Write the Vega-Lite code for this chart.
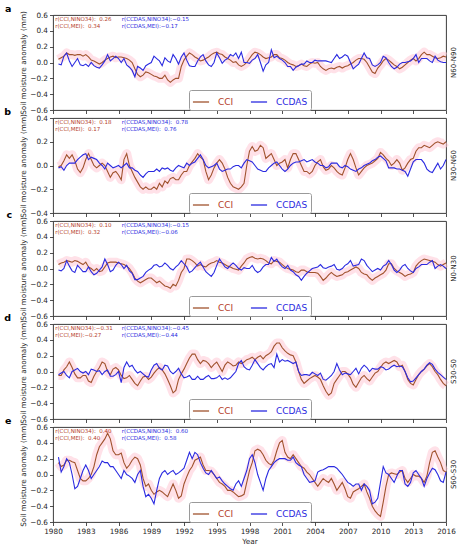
{
  "$schema": "https://vega.github.io/schema/vega-lite/v6.json",
  "padding": {"left": 3, "top": 3, "right": 2, "bottom": 2},
  "data": {"values": [
    {"t":1980.5,"a1":0.04,"a2":-0.02,"b1":-0.01,"b2":-0.02,"c1":0.05,"c2":-0.02,"d1":-0.05,"d2":-0.04,"e1":0.15,"e2":0.22},
    {"t":1980.75,"a1":0.06,"a2":-0.03,"b1":0,"b2":-0.01,"c1":0.07,"c2":-0.03,"d1":-0.05,"d2":-0.02,"e1":0.1,"e2":0.03},
    {"t":1981,"a1":0.08,"a2":0.08,"b1":0.04,"b2":-0.04,"c1":0.08,"c2":0,"d1":0.02,"d2":0,"e1":0.12,"e2":0.1},
    {"t":1981.25,"a1":0.12,"a2":0.12,"b1":0.09,"b2":0,"c1":0.1,"c2":0.1,"d1":0.06,"d2":-0.05,"e1":0.18,"e2":0.2},
    {"t":1981.5,"a1":0.1,"a2":0.02,"b1":0.06,"b2":0.02,"c1":0.09,"c2":0.03,"d1":0.12,"d2":-0.08,"e1":0.18,"e2":0.15},
    {"t":1981.75,"a1":0.1,"a2":-0.05,"b1":0.09,"b2":0.02,"c1":0.08,"c2":-0.03,"d1":0.05,"d2":0,"e1":0.16,"e2":0},
    {"t":1982,"a1":0.09,"a2":0,"b1":0.04,"b2":0.02,"c1":0.1,"c2":-0.05,"d1":-0.03,"d2":0.02,"e1":0.15,"e2":-0.18},
    {"t":1982.25,"a1":0.1,"a2":0.05,"b1":-0.03,"b2":0.05,"c1":0.09,"c2":0.04,"d1":-0.08,"d2":0.04,"e1":0.05,"e2":-0.15},
    {"t":1982.5,"a1":0.1,"a2":-0.03,"b1":-0.06,"b2":0.07,"c1":0.07,"c2":0,"d1":-0.08,"d2":0,"e1":-0.05,"e2":-0.05},
    {"t":1982.75,"a1":0.08,"a2":-0.04,"b1":-0.02,"b2":0.09,"c1":0.05,"c2":-0.04,"d1":-0.05,"d2":-0.02,"e1":-0.08,"e2":0.05},
    {"t":1983,"a1":0.1,"a2":-0.02,"b1":0.05,"b2":0.1,"c1":0.08,"c2":-0.04,"d1":-0.05,"d2":0,"e1":-0.08,"e2":0.12},
    {"t":1983.25,"a1":0.07,"a2":-0.05,"b1":0.1,"b2":0.05,"c1":0.02,"c2":0.02,"d1":-0.12,"d2":-0.04,"e1":-0.05,"e2":0.05},
    {"t":1983.5,"a1":0.03,"a2":0,"b1":0.05,"b2":0.07,"c1":0,"c2":-0.04,"d1":-0.14,"d2":0.03,"e1":0,"e2":-0.05},
    {"t":1983.75,"a1":0.02,"a2":-0.04,"b1":0,"b2":0.06,"c1":-0.03,"c2":-0.08,"d1":-0.06,"d2":0.02,"e1":0.1,"e2":0},
    {"t":1984,"a1":0,"a2":-0.06,"b1":-0.02,"b2":0.05,"c1":0,"c2":-0.06,"d1":0,"d2":0,"e1":0.25,"e2":0.05},
    {"t":1984.25,"a1":-0.02,"a2":-0.07,"b1":0,"b2":0.02,"c1":-0.04,"c2":-0.02,"d1":0.05,"d2":0.01,"e1":0.35,"e2":0.1},
    {"t":1984.5,"a1":0,"a2":-0.03,"b1":0.02,"b2":0,"c1":-0.03,"c2":0.02,"d1":0.12,"d2":-0.04,"e1":0.4,"e2":0.17},
    {"t":1984.75,"a1":0.03,"a2":0.02,"b1":0,"b2":-0.03,"c1":0.02,"c2":0.12,"d1":0.1,"d2":0,"e1":0.45,"e2":0.15},
    {"t":1985,"a1":0.05,"a2":0.1,"b1":-0.05,"b2":0.02,"c1":0.07,"c2":0.05,"d1":0,"d2":0.02,"e1":0.52,"e2":0.15},
    {"t":1985.25,"a1":0.07,"a2":0.02,"b1":-0.1,"b2":0,"c1":0.08,"c2":-0.04,"d1":-0.04,"d2":-0.06,"e1":0.45,"e2":0.1},
    {"t":1985.5,"a1":0.08,"a2":0.05,"b1":-0.06,"b2":-0.02,"c1":0.08,"c2":-0.02,"d1":0.03,"d2":-0.06,"e1":0.3,"e2":0.1},
    {"t":1985.75,"a1":0.06,"a2":0.08,"b1":-0.05,"b2":-0.01,"c1":0.08,"c2":0.04,"d1":0.05,"d2":-0.04,"e1":0.25,"e2":0.05},
    {"t":1986,"a1":0.07,"a2":0.05,"b1":-0.08,"b2":0,"c1":0.07,"c2":0.08,"d1":0.02,"d2":0,"e1":0.25,"e2":0},
    {"t":1986.25,"a1":0.07,"a2":0,"b1":-0.12,"b2":-0.02,"c1":0.06,"c2":0.05,"d1":-0.05,"d2":-0.14,"e1":0.27,"e2":-0.05},
    {"t":1986.5,"a1":0.06,"a2":0.05,"b1":0.05,"b2":0,"c1":0.05,"c2":0,"d1":-0.09,"d2":0.05,"e1":0.15,"e2":0.05},
    {"t":1986.75,"a1":0.05,"a2":-0.03,"b1":0.1,"b2":0.02,"c1":0.03,"c2":0.04,"d1":-0.08,"d2":0.12,"e1":0.08,"e2":0},
    {"t":1987,"a1":0.03,"a2":-0.06,"b1":0,"b2":-0.02,"c1":0,"c2":-0.03,"d1":-0.05,"d2":0.06,"e1":0.12,"e2":-0.02},
    {"t":1987.25,"a1":0,"a2":-0.1,"b1":-0.05,"b2":-0.02,"c1":-0.05,"c2":-0.06,"d1":-0.1,"d2":0.08,"e1":0.18,"e2":-0.05},
    {"t":1987.5,"a1":-0.08,"a2":-0.18,"b1":-0.1,"b2":-0.04,"c1":-0.12,"c2":-0.14,"d1":-0.15,"d2":0.02,"e1":0.22,"e2":-0.1},
    {"t":1987.75,"a1":-0.15,"a2":-0.05,"b1":-0.14,"b2":-0.05,"c1":-0.16,"c2":-0.14,"d1":-0.18,"d2":-0.02,"e1":0.2,"e2":0},
    {"t":1988,"a1":-0.18,"a2":-0.07,"b1":-0.18,"b2":-0.08,"c1":-0.18,"c2":-0.12,"d1":-0.12,"d2":0,"e1":0.12,"e2":0.05},
    {"t":1988.25,"a1":-0.16,"a2":-0.1,"b1":-0.2,"b2":-0.1,"c1":-0.16,"c2":-0.1,"d1":-0.07,"d2":-0.03,"e1":-0.05,"e2":-0.15},
    {"t":1988.5,"a1":-0.12,"a2":-0.04,"b1":-0.18,"b2":-0.07,"c1":-0.14,"c2":-0.05,"d1":-0.06,"d2":-0.06,"e1":-0.15,"e2":-0.28},
    {"t":1988.75,"a1":-0.13,"a2":-0.02,"b1":-0.2,"b2":-0.05,"c1":-0.12,"c2":-0.02,"d1":-0.1,"d2":-0.07,"e1":-0.12,"e2":-0.25},
    {"t":1989,"a1":-0.15,"a2":0,"b1":-0.2,"b2":-0.05,"c1":-0.12,"c2":0,"d1":-0.07,"d2":0.02,"e1":-0.2,"e2":-0.3},
    {"t":1989.25,"a1":-0.17,"a2":0.08,"b1":-0.18,"b2":-0.05,"c1":-0.15,"c2":0.04,"d1":-0.02,"d2":0.08,"e1":-0.25,"e2":-0.37},
    {"t":1989.5,"a1":-0.18,"a2":0.05,"b1":-0.2,"b2":-0.03,"c1":-0.18,"c2":0.05,"d1":0.02,"d2":0.1,"e1":-0.22,"e2":-0.2},
    {"t":1989.75,"a1":-0.2,"a2":0.02,"b1":-0.15,"b2":-0.05,"c1":-0.16,"c2":0.02,"d1":0.05,"d2":0.04,"e1":-0.2,"e2":-0.05},
    {"t":1990,"a1":-0.2,"a2":-0.04,"b1":-0.18,"b2":-0.02,"c1":-0.19,"c2":0.03,"d1":0.02,"d2":0.02,"e1":-0.22,"e2":0.02},
    {"t":1990.25,"a1":-0.16,"a2":0.06,"b1":-0.13,"b2":-0.03,"c1":-0.22,"c2":0.07,"d1":-0.03,"d2":0.08,"e1":-0.25,"e2":0.05},
    {"t":1990.5,"a1":-0.22,"a2":0.02,"b1":-0.15,"b2":-0.02,"c1":-0.23,"c2":0.04,"d1":-0.1,"d2":0.07,"e1":-0.28,"e2":0},
    {"t":1990.75,"a1":-0.25,"a2":0,"b1":-0.11,"b2":-0.04,"c1":-0.25,"c2":0,"d1":-0.18,"d2":0,"e1":-0.2,"e2":0.03},
    {"t":1991,"a1":-0.22,"a2":0.1,"b1":-0.1,"b2":-0.05,"c1":-0.2,"c2":-0.02,"d1":-0.27,"d2":-0.03,"e1":-0.12,"e2":0.05},
    {"t":1991.25,"a1":-0.2,"a2":0.05,"b1":-0.12,"b2":-0.02,"c1":-0.22,"c2":0.02,"d1":-0.24,"d2":0,"e1":-0.2,"e2":0},
    {"t":1991.5,"a1":-0.2,"a2":-0.02,"b1":-0.12,"b2":0,"c1":-0.15,"c2":0.05,"d1":-0.1,"d2":0.04,"e1":-0.3,"e2":0.02},
    {"t":1991.75,"a1":-0.05,"a2":0.07,"b1":-0.08,"b2":-0.01,"c1":-0.05,"c2":0.1,"d1":-0.03,"d2":-0.03,"e1":-0.27,"e2":0.05},
    {"t":1992,"a1":0.03,"a2":0.12,"b1":-0.05,"b2":-0.02,"c1":0,"c2":0.06,"d1":0.03,"d2":-0.08,"e1":-0.12,"e2":0.08},
    {"t":1992.25,"a1":0.08,"a2":0.03,"b1":-0.05,"b2":0.02,"c1":0.12,"c2":0.02,"d1":0.1,"d2":-0.07,"e1":-0.03,"e2":0.18},
    {"t":1992.5,"a1":0.12,"a2":-0.04,"b1":0,"b2":0,"c1":0.12,"c2":-0.05,"d1":0.17,"d2":-0.05,"e1":0.05,"e2":0.28},
    {"t":1992.75,"a1":0.1,"a2":-0.05,"b1":0.03,"b2":0.02,"c1":0.1,"c2":-0.03,"d1":0.22,"d2":-0.1,"e1":0.1,"e2":0.2},
    {"t":1993,"a1":0.07,"a2":-0.05,"b1":0.06,"b2":0.03,"c1":0.07,"c2":0.01,"d1":0.22,"d2":-0.1,"e1":0.18,"e2":0.28},
    {"t":1993.25,"a1":0.05,"a2":0.02,"b1":0.1,"b2":0.06,"c1":0.03,"c2":0.05,"d1":0.15,"d2":-0.06,"e1":0.2,"e2":0.25},
    {"t":1993.5,"a1":0.02,"a2":0.07,"b1":0.07,"b2":0.09,"c1":0.05,"c2":0.08,"d1":0.1,"d2":-0.1,"e1":0.22,"e2":0.15},
    {"t":1993.75,"a1":0.03,"a2":0.1,"b1":0.05,"b2":0.05,"c1":0.03,"c2":0.02,"d1":0.14,"d2":-0.1,"e1":0.12,"e2":0.08},
    {"t":1994,"a1":0.05,"a2":0.02,"b1":-0.05,"b2":0,"c1":0.02,"c2":-0.04,"d1":0.13,"d2":-0.07,"e1":0.05,"e2":0.02},
    {"t":1994.25,"a1":0.07,"a2":-0.03,"b1":-0.12,"b2":-0.02,"c1":0.05,"c2":-0.07,"d1":0.1,"d2":-0.05,"e1":0.05,"e2":0},
    {"t":1994.5,"a1":0.1,"a2":-0.05,"b1":-0.08,"b2":-0.01,"c1":0.07,"c2":-0.1,"d1":0.05,"d2":-0.09,"e1":0.04,"e2":0.05},
    {"t":1994.75,"a1":0.12,"a2":0,"b1":-0.02,"b2":0,"c1":0.08,"c2":-0.05,"d1":0.09,"d2":-0.09,"e1":0,"e2":0},
    {"t":1995,"a1":0.13,"a2":0.12,"b1":0.02,"b2":0.02,"c1":0.1,"c2":0.04,"d1":0.12,"d2":-0.08,"e1":-0.05,"e2":-0.05},
    {"t":1995.25,"a1":0.11,"a2":0.06,"b1":0.05,"b2":-0.03,"c1":0.08,"c2":0.12,"d1":0.06,"d2":-0.05,"e1":-0.1,"e2":-0.03},
    {"t":1995.5,"a1":0.1,"a2":-0.01,"b1":0.02,"b2":-0.05,"c1":0.07,"c2":0.07,"d1":0,"d2":-0.1,"e1":-0.12,"e2":-0.08},
    {"t":1995.75,"a1":0.07,"a2":0.03,"b1":-0.03,"b2":-0.04,"c1":0.05,"c2":0.02,"d1":0.08,"d2":-0.08,"e1":-0.15,"e2":-0.12},
    {"t":1996,"a1":0.05,"a2":0.05,"b1":-0.1,"b2":-0.03,"c1":0.03,"c2":0,"d1":0.12,"d2":-0.1,"e1":-0.2,"e2":-0.15},
    {"t":1996.25,"a1":0.03,"a2":0.1,"b1":-0.15,"b2":-0.03,"c1":0.02,"c2":0.04,"d1":0.1,"d2":-0.08,"e1":-0.2,"e2":-0.18},
    {"t":1996.5,"a1":0,"a2":0.08,"b1":-0.18,"b2":-0.01,"c1":0,"c2":0.07,"d1":0.07,"d2":-0.04,"e1":-0.22,"e2":-0.2},
    {"t":1996.75,"a1":0.01,"a2":0.12,"b1":-0.19,"b2":0,"c1":-0.01,"c2":0.04,"d1":0.08,"d2":0,"e1":-0.25,"e2":-0.12},
    {"t":1997,"a1":-0.03,"a2":0.05,"b1":-0.2,"b2":0,"c1":-0.02,"c2":0,"d1":0.12,"d2":0.1,"e1":-0.28,"e2":-0.08},
    {"t":1997.25,"a1":-0.05,"a2":0.13,"b1":-0.18,"b2":-0.02,"c1":0.03,"c2":-0.02,"d1":0.1,"d2":0.14,"e1":-0.27,"e2":-0.15},
    {"t":1997.5,"a1":-0.03,"a2":0,"b1":-0.15,"b2":0.02,"c1":0.07,"c2":0.01,"d1":0.12,"d2":0.06,"e1":-0.25,"e2":-0.05},
    {"t":1997.75,"a1":0,"a2":0,"b1":0,"b2":0.05,"c1":0.12,"c2":0,"d1":0.15,"d2":0.03,"e1":-0.1,"e2":0.05},
    {"t":1998,"a1":0.05,"a2":-0.01,"b1":0.12,"b2":0.04,"c1":0.14,"c2":0,"d1":0.16,"d2":0.02,"e1":0.05,"e2":0.2},
    {"t":1998.25,"a1":0.1,"a2":0.03,"b1":0.16,"b2":0.03,"c1":0.15,"c2":0.04,"d1":0.18,"d2":0.08,"e1":0.15,"e2":0.25},
    {"t":1998.5,"a1":0.13,"a2":0.05,"b1":0.12,"b2":0,"c1":0.13,"c2":-0.02,"d1":0.15,"d2":0.15,"e1":0.3,"e2":0.15},
    {"t":1998.75,"a1":0.12,"a2":0.1,"b1":0.13,"b2":-0.03,"c1":0.12,"c2":-0.05,"d1":0.18,"d2":0.1,"e1":0.32,"e2":0},
    {"t":1999,"a1":0.1,"a2":0,"b1":0.17,"b2":-0.04,"c1":0.13,"c2":-0.03,"d1":0.2,"d2":0.05,"e1":0.3,"e2":-0.1},
    {"t":1999.25,"a1":0.07,"a2":-0.11,"b1":0.15,"b2":-0.05,"c1":0.12,"c2":0.02,"d1":0.16,"d2":0.02,"e1":0.25,"e2":-0.2},
    {"t":1999.5,"a1":0.05,"a2":-0.03,"b1":0.06,"b2":-0.05,"c1":0.1,"c2":0.05,"d1":0.2,"d2":0.06,"e1":0.18,"e2":-0.05},
    {"t":1999.75,"a1":0.06,"a2":0,"b1":0.08,"b2":-0.02,"c1":0.07,"c2":0.05,"d1":0.22,"d2":0.09,"e1":0.14,"e2":0.05},
    {"t":2000,"a1":0.07,"a2":0.16,"b1":0.1,"b2":0,"c1":0.06,"c2":0.14,"d1":0.25,"d2":0.1,"e1":0.12,"e2":0.1},
    {"t":2000.25,"a1":0.1,"a2":0.06,"b1":0.05,"b2":0.02,"c1":0.1,"c2":0.09,"d1":0.32,"d2":0.05,"e1":0.18,"e2":0.15},
    {"t":2000.5,"a1":0.1,"a2":0.08,"b1":0,"b2":0.03,"c1":0.09,"c2":0.12,"d1":0.36,"d2":0.22,"e1":0.3,"e2":0.18},
    {"t":2000.75,"a1":0.06,"a2":0.05,"b1":0.02,"b2":0,"c1":0.08,"c2":0.06,"d1":0.36,"d2":0.12,"e1":0.4,"e2":0.2},
    {"t":2001,"a1":0.05,"a2":0.03,"b1":0.03,"b2":-0.03,"c1":0.05,"c2":0.02,"d1":0.3,"d2":0.15,"e1":0.43,"e2":0.2},
    {"t":2001.25,"a1":0.03,"a2":0,"b1":0.05,"b2":-0.05,"c1":0.02,"c2":0,"d1":0.26,"d2":0.13,"e1":0.28,"e2":0.2},
    {"t":2001.5,"a1":0,"a2":-0.05,"b1":-0.02,"b2":-0.03,"c1":0,"c2":0.04,"d1":0.23,"d2":0.14,"e1":0.22,"e2":0.18},
    {"t":2001.75,"a1":-0.02,"a2":-0.05,"b1":0.05,"b2":0,"c1":-0.01,"c2":-0.02,"d1":0.21,"d2":0.12,"e1":0.2,"e2":0.18},
    {"t":2002,"a1":-0.03,"a2":-0.1,"b1":0.1,"b2":0.02,"c1":-0.02,"c2":-0.04,"d1":0.2,"d2":0.1,"e1":0.25,"e2":0.22},
    {"t":2002.25,"a1":-0.05,"a2":-0.06,"b1":0.1,"b2":0.03,"c1":-0.04,"c2":-0.08,"d1":0.12,"d2":0.12,"e1":0.2,"e2":0.15},
    {"t":2002.5,"a1":-0.04,"a2":-0.04,"b1":0.05,"b2":0.03,"c1":-0.05,"c2":-0.1,"d1":0,"d2":0,"e1":0.15,"e2":0.12},
    {"t":2002.75,"a1":-0.02,"a2":-0.02,"b1":0,"b2":0.04,"c1":-0.02,"c2":-0.15,"d1":-0.1,"d2":-0.05,"e1":0.1,"e2":0.1},
    {"t":2003,"a1":-0.04,"a2":-0.02,"b1":-0.05,"b2":0.05,"c1":-0.02,"c2":-0.1,"d1":-0.15,"d2":-0.04,"e1":0.08,"e2":0},
    {"t":2003.25,"a1":-0.05,"a2":0.02,"b1":-0.05,"b2":0.03,"c1":-0.04,"c2":-0.06,"d1":-0.12,"d2":-0.04,"e1":0.03,"e2":-0.05},
    {"t":2003.5,"a1":-0.02,"a2":0,"b1":-0.07,"b2":0.04,"c1":-0.05,"c2":-0.03,"d1":-0.09,"d2":-0.05,"e1":0,"e2":-0.1},
    {"t":2003.75,"a1":0,"a2":0,"b1":-0.05,"b2":0.05,"c1":-0.05,"c2":0,"d1":-0.07,"d2":-0.01,"e1":-0.05,"e2":-0.09},
    {"t":2004,"a1":-0.01,"a2":0.03,"b1":0,"b2":0.03,"c1":-0.05,"c2":0.01,"d1":-0.05,"d2":-0.03,"e1":-0.1,"e2":-0.08},
    {"t":2004.25,"a1":0,"a2":0.02,"b1":0.03,"b2":0.02,"c1":-0.06,"c2":0.02,"d1":-0.07,"d2":-0.05,"e1":-0.15,"e2":0.03},
    {"t":2004.5,"a1":-0.05,"a2":0.02,"b1":0.05,"b2":0,"c1":-0.1,"c2":0.05,"d1":-0.1,"d2":-0.02,"e1":-0.1,"e2":0.05},
    {"t":2004.75,"a1":-0.08,"a2":0.02,"b1":-0.01,"b2":0,"c1":-0.15,"c2":0.01,"d1":-0.18,"d2":-0.1,"e1":-0.05,"e2":0.06},
    {"t":2005,"a1":-0.1,"a2":0.02,"b1":-0.04,"b2":-0.02,"c1":-0.12,"c2":0,"d1":-0.25,"d2":-0.11,"e1":-0.08,"e2":0.08},
    {"t":2005.25,"a1":-0.08,"a2":0.01,"b1":-0.03,"b2":-0.01,"c1":-0.08,"c2":0.02,"d1":-0.3,"d2":-0.08,"e1":-0.1,"e2":0.1},
    {"t":2005.5,"a1":-0.07,"a2":0,"b1":0,"b2":0.02,"c1":-0.05,"c2":0.03,"d1":-0.27,"d2":-0.05,"e1":-0.05,"e2":0.1},
    {"t":2005.75,"a1":-0.08,"a2":0.05,"b1":-0.02,"b2":0.02,"c1":-0.08,"c2":0.05,"d1":-0.15,"d2":0,"e1":-0.12,"e2":0.1},
    {"t":2006,"a1":-0.06,"a2":0.1,"b1":-0.05,"b2":0.02,"c1":-0.1,"c2":-0.01,"d1":-0.1,"d2":0.1,"e1":-0.2,"e2":0.08},
    {"t":2006.25,"a1":-0.05,"a2":0.05,"b1":-0.07,"b2":-0.01,"c1":-0.09,"c2":-0.02,"d1":-0.05,"d2":0.02,"e1":-0.15,"e2":0.04},
    {"t":2006.5,"a1":-0.07,"a2":0.07,"b1":-0.08,"b2":-0.02,"c1":-0.08,"c2":0,"d1":0,"d2":-0.04,"e1":-0.1,"e2":0},
    {"t":2006.75,"a1":-0.05,"a2":0.1,"b1":-0.02,"b2":0,"c1":-0.05,"c2":0.04,"d1":0,"d2":-0.02,"e1":-0.18,"e2":-0.05},
    {"t":2007,"a1":-0.04,"a2":0.08,"b1":0.05,"b2":-0.01,"c1":-0.04,"c2":0.06,"d1":-0.03,"d2":-0.03,"e1":-0.28,"e2":-0.1},
    {"t":2007.25,"a1":-0.02,"a2":0,"b1":0.1,"b2":-0.03,"c1":-0.02,"c2":0.1,"d1":-0.08,"d2":-0.04,"e1":-0.3,"e2":-0.12},
    {"t":2007.5,"a1":0,"a2":-0.08,"b1":0.05,"b2":-0.04,"c1":0,"c2":0.03,"d1":-0.16,"d2":0,"e1":-0.22,"e2":-0.15},
    {"t":2007.75,"a1":0.03,"a2":-0.05,"b1":-0.02,"b2":-0.05,"c1":0.02,"c2":0.04,"d1":-0.2,"d2":0.04,"e1":-0.2,"e2":-0.12},
    {"t":2008,"a1":0.05,"a2":-0.02,"b1":-0.08,"b2":-0.03,"c1":0,"c2":0.05,"d1":-0.14,"d2":-0.03,"e1":-0.18,"e2":-0.12},
    {"t":2008.25,"a1":0.05,"a2":0.05,"b1":-0.05,"b2":-0.02,"c1":-0.05,"c2":0.12,"d1":-0.08,"d2":0.04,"e1":-0.15,"e2":-0.2},
    {"t":2008.5,"a1":0.04,"a2":0.12,"b1":-0.02,"b2":0,"c1":-0.07,"c2":0.1,"d1":-0.05,"d2":0.08,"e1":-0.12,"e2":-0.12},
    {"t":2008.75,"a1":0,"a2":0.06,"b1":0,"b2":0.01,"c1":-0.08,"c2":0.04,"d1":-0.09,"d2":0.05,"e1":-0.22,"e2":-0.15},
    {"t":2009,"a1":-0.06,"a2":0.05,"b1":0.01,"b2":0.02,"c1":-0.12,"c2":0,"d1":-0.12,"d2":0,"e1":-0.3,"e2":-0.2},
    {"t":2009.25,"a1":-0.12,"a2":-0.03,"b1":0.02,"b2":0.04,"c1":-0.15,"c2":-0.04,"d1":-0.07,"d2":0.04,"e1":-0.4,"e2":-0.37},
    {"t":2009.5,"a1":-0.14,"a2":-0.05,"b1":0.04,"b2":0.05,"c1":-0.12,"c2":-0.02,"d1":-0.02,"d2":0.03,"e1":-0.46,"e2":-0.35},
    {"t":2009.75,"a1":-0.07,"a2":-0.03,"b1":0.06,"b2":0.07,"c1":-0.1,"c2":0,"d1":0,"d2":0.03,"e1":-0.5,"e2":-0.3},
    {"t":2010,"a1":-0.03,"a2":0,"b1":0.11,"b2":0.08,"c1":-0.08,"c2":-0.02,"d1":0.05,"d2":0.06,"e1":-0.53,"e2":-0.1},
    {"t":2010.25,"a1":0.02,"a2":0.08,"b1":0.09,"b2":0.06,"c1":-0.06,"c2":0.03,"d1":0.1,"d2":0.05,"e1":-0.35,"e2":0.1},
    {"t":2010.5,"a1":0.05,"a2":0.06,"b1":0.06,"b2":0.04,"c1":-0.02,"c2":0.05,"d1":0.12,"d2":0.02,"e1":-0.15,"e2":0.02},
    {"t":2010.75,"a1":0.03,"a2":0,"b1":0.04,"b2":-0.02,"c1":0.06,"c2":0.1,"d1":0.1,"d2":0.03,"e1":0,"e2":0},
    {"t":2011,"a1":0,"a2":-0.05,"b1":0,"b2":-0.02,"c1":0.06,"c2":0.05,"d1":0.12,"d2":0.06,"e1":0.02,"e2":-0.05},
    {"t":2011.25,"a1":-0.03,"a2":-0.08,"b1":0.02,"b2":-0.02,"c1":0,"c2":-0.02,"d1":0.14,"d2":0.08,"e1":0.01,"e2":-0.1},
    {"t":2011.5,"a1":-0.05,"a2":-0.06,"b1":0.05,"b2":-0.03,"c1":-0.03,"c2":-0.05,"d1":0.12,"d2":0.06,"e1":0,"e2":-0.02},
    {"t":2011.75,"a1":-0.08,"a2":-0.02,"b1":0.02,"b2":-0.03,"c1":-0.05,"c2":-0.02,"d1":0.06,"d2":0.07,"e1":0.03,"e2":0.05},
    {"t":2012,"a1":-0.06,"a2":0,"b1":-0.04,"b2":-0.04,"c1":-0.07,"c2":0.03,"d1":0.08,"d2":0.06,"e1":0.05,"e2":0.05},
    {"t":2012.25,"a1":-0.03,"a2":0,"b1":-0.02,"b2":-0.05,"c1":-0.1,"c2":0.05,"d1":0,"d2":0,"e1":-0.05,"e2":-0.12},
    {"t":2012.5,"a1":0,"a2":0.01,"b1":0.02,"b2":-0.09,"c1":-0.08,"c2":0,"d1":-0.1,"d2":-0.08,"e1":-0.1,"e2":-0.15},
    {"t":2012.75,"a1":0.03,"a2":0.02,"b1":0.05,"b2":-0.03,"c1":-0.07,"c2":-0.03,"d1":-0.15,"d2":-0.13,"e1":-0.05,"e2":-0.1},
    {"t":2013,"a1":0.05,"a2":0.05,"b1":0.06,"b2":0.03,"c1":-0.05,"c2":-0.05,"d1":-0.17,"d2":-0.12,"e1":0,"e2":0.02},
    {"t":2013.25,"a1":0.02,"a2":0.1,"b1":0.12,"b2":0.05,"c1":0.03,"c2":0,"d1":-0.1,"d2":-0.08,"e1":-0.02,"e2":0.05},
    {"t":2013.5,"a1":0.05,"a2":0,"b1":0.15,"b2":0.05,"c1":0.07,"c2":0.02,"d1":-0.04,"d2":-0.04,"e1":-0.02,"e2":0},
    {"t":2013.75,"a1":0.1,"a2":0.05,"b1":0.15,"b2":0.05,"c1":0.1,"c2":0.05,"d1":0,"d2":0,"e1":-0.05,"e2":-0.05},
    {"t":2014,"a1":0.13,"a2":0.05,"b1":0.17,"b2":0.02,"c1":0.12,"c2":0.05,"d1":0.03,"d2":0.03,"e1":-0.1,"e2":-0.15},
    {"t":2014.25,"a1":0.1,"a2":0.05,"b1":0.16,"b2":-0.03,"c1":0.11,"c2":0.05,"d1":0.07,"d2":0.08,"e1":-0.02,"e2":-0.05},
    {"t":2014.5,"a1":0.1,"a2":0.02,"b1":0.15,"b2":-0.05,"c1":0.1,"c2":0.08,"d1":0.1,"d2":0.11,"e1":0.15,"e2":0.02},
    {"t":2014.75,"a1":0.08,"a2":0,"b1":0.17,"b2":-0.06,"c1":0.09,"c2":0.1,"d1":0.06,"d2":0.09,"e1":0.28,"e2":0.08},
    {"t":2015,"a1":0.06,"a2":0.08,"b1":0.19,"b2":-0.02,"c1":0.08,"c2":0,"d1":0,"d2":0.03,"e1":0.3,"e2":0.06},
    {"t":2015.25,"a1":0.05,"a2":0.03,"b1":0.2,"b2":0.02,"c1":0.05,"c2":0.03,"d1":-0.04,"d2":-0.01,"e1":0.22,"e2":0},
    {"t":2015.5,"a1":0.06,"a2":0.01,"b1":0.19,"b2":-0.03,"c1":0.03,"c2":0.05,"d1":-0.1,"d2":-0.04,"e1":0.15,"e2":-0.08},
    {"t":2015.75,"a1":0.08,"a2":0,"b1":0.18,"b2":0,"c1":0.05,"c2":0.03,"d1":-0.15,"d2":-0.07,"e1":0.05,"e2":-0.1},
    {"t":2016,"a1":0.07,"a2":0,"b1":0.2,"b2":0.05,"c1":0.07,"c2":0,"d1":-0.18,"d2":-0.1,"e1":0.03,"e2":0.03}
  ]},
  "spacing": 8,
  "bounds": "flush",
  "resolve": {"scale": {"color": "independent"}, "legend": {"color": "independent"}},
  "vconcat": [
    {
      "width": 393, "height": 95,
      "title": {"text": "a", "orient": "left", "anchor": "end", "angle": 0, "align": "right", "baseline": "middle", "fontSize": 9.5, "fontWeight": "bold", "offset": 2, "dy": -2},
      "layer": [
        {"mark": {"type": "line", "color": "#ffc8d5", "strokeWidth": 9, "opacity": 0.55, "strokeJoin": "round"},
         "encoding": {
           "x": {"field": "t", "type": "quantitative", "title": null, "scale": {"domain": [1980, 2016], "nice": false, "zero": false}, "axis": {"values": [1980,1983,1986,1989,1992,1995,1998,2001,2004,2007,2010,2013,2016], "tickCount": 40, "labels": false}},
           "y": {"field": "a1", "type": "quantitative", "title": "Soil moisture anomaly (mm)", "scale": {"domain": [-0.6, 0.6], "nice": false, "zero": false}, "axis": {"values": [-0.6,-0.4,-0.2,0,0.2,0.4,0.6], "tickCount": 20, "format": ".1f"}}}},
        {"mark": {"type": "line", "strokeWidth": 1.1},
         "encoding": {
           "x": {"field": "t", "type": "quantitative", "title": null, "axis": {"values": [1980,1983,1986,1989,1992,1995,1998,2001,2004,2007,2010,2013,2016], "tickCount": 40, "labels": false}},
           "y": {"field": "a1", "type": "quantitative", "title": "Soil moisture anomaly (mm)", "axis": {"values": [-0.6,-0.4,-0.2,0,0.2,0.4,0.6], "tickCount": 20, "format": ".1f"}},
           "color": {"datum": "CCI", "type": "nominal", "scale": {"domain": ["CCI", "CCDAS"], "range": ["#a0522d", "#2a2ae0"]},
             "legend": {"orient": "none", "legendX": 136, "legendY": 75, "direction": "horizontal", "title": null, "symbolType": "stroke", "symbolStrokeWidth": 1.3, "symbolSize": 260, "labelFont": "DejaVu Sans", "labelFontSize": 9, "labelOffset": 8, "columnPadding": 14, "padding": 3, "fillColor": "#ffffff", "strokeColor": "#9a9a9a", "cornerRadius": 2, "encode": {"labels": {"update": {"fill": {"signal": "datum.label == 'CCI' ? '#b5402a' : '#2a2ae0'"}}}}}}}},
        {"mark": {"type": "line", "strokeWidth": 1.1},
         "encoding": {
           "x": {"field": "t", "type": "quantitative", "title": null, "axis": {"values": [1980,1983,1986,1989,1992,1995,1998,2001,2004,2007,2010,2013,2016], "tickCount": 40, "labels": false}},
           "y": {"field": "a2", "type": "quantitative", "title": "Soil moisture anomaly (mm)", "axis": {"values": [-0.6,-0.4,-0.2,0,0.2,0.4,0.6], "tickCount": 20, "format": ".1f"}},
           "color": {"datum": "CCDAS", "type": "nominal"}}},
        {"data": {"values": [{"n": 1}]}, "mark": {"type": "text", "align": "left", "baseline": "top", "fontSize": 5.5, "lineHeight": 6.7, "dy": 2, "color": "#b5402a"},
         "encoding": {"x": {"datum": 1980.2, "type": "quantitative"}, "y": {"datum": 0.6, "type": "quantitative"}, "text": {"value": ["r(CCI,NINO34):\u00a0\u00a00.26", "r(CCI,MEI):\u00a0\u00a00.34"]}}},
        {"data": {"values": [{"n": 1}]}, "mark": {"type": "text", "align": "left", "baseline": "top", "fontSize": 5.5, "lineHeight": 6.7, "dy": 2, "color": "#2a2ae0"},
         "encoding": {"x": {"datum": 1986.3, "type": "quantitative"}, "y": {"datum": 0.6, "type": "quantitative"}, "text": {"value": ["r(CCDAS,NINO34):−0.15", "r(CCDAS,MEI):−0.17"]}}},
        {"data": {"values": [{"n": 1}]}, "mark": {"type": "text", "angle": 270, "align": "center", "baseline": "top", "dy": 3.5, "fontSize": 7, "color": "#262626"},
         "encoding": {"x": {"datum": 2016, "type": "quantitative"}, "y": {"datum": 0, "type": "quantitative"}, "text": {"value": "N60-N90"}}}
      ]
    },
    {
      "width": 393, "height": 95,
      "title": {"text": "b", "orient": "left", "anchor": "end", "angle": 0, "align": "right", "baseline": "middle", "fontSize": 9.5, "fontWeight": "bold", "offset": 2, "dy": -2},
      "layer": [
        {"mark": {"type": "line", "color": "#ffc8d5", "strokeWidth": 9, "opacity": 0.55, "strokeJoin": "round"},
         "encoding": {
           "x": {"field": "t", "type": "quantitative", "title": null, "scale": {"domain": [1980, 2016], "nice": false, "zero": false}, "axis": {"values": [1980,1983,1986,1989,1992,1995,1998,2001,2004,2007,2010,2013,2016], "tickCount": 40, "labels": false}},
           "y": {"field": "b1", "type": "quantitative", "title": "Soil moisture anomaly (mm)", "scale": {"domain": [-0.4, 0.4], "nice": false, "zero": false}, "axis": {"values": [-0.4,-0.2,0,0.2,0.4], "tickCount": 20, "format": ".1f"}}}},
        {"mark": {"type": "line", "strokeWidth": 1.1},
         "encoding": {
           "x": {"field": "t", "type": "quantitative", "title": null, "axis": {"values": [1980,1983,1986,1989,1992,1995,1998,2001,2004,2007,2010,2013,2016], "tickCount": 40, "labels": false}},
           "y": {"field": "b1", "type": "quantitative", "title": "Soil moisture anomaly (mm)", "axis": {"values": [-0.4,-0.2,0,0.2,0.4], "tickCount": 20, "format": ".1f"}},
           "color": {"datum": "CCI", "type": "nominal", "scale": {"domain": ["CCI", "CCDAS"], "range": ["#a0522d", "#2a2ae0"]},
             "legend": {"orient": "none", "legendX": 136, "legendY": 75, "direction": "horizontal", "title": null, "symbolType": "stroke", "symbolStrokeWidth": 1.3, "symbolSize": 260, "labelFont": "DejaVu Sans", "labelFontSize": 9, "labelOffset": 8, "columnPadding": 14, "padding": 3, "fillColor": "#ffffff", "strokeColor": "#9a9a9a", "cornerRadius": 2, "encode": {"labels": {"update": {"fill": {"signal": "datum.label == 'CCI' ? '#b5402a' : '#2a2ae0'"}}}}}}}},
        {"mark": {"type": "line", "strokeWidth": 1.1},
         "encoding": {
           "x": {"field": "t", "type": "quantitative", "title": null, "axis": {"values": [1980,1983,1986,1989,1992,1995,1998,2001,2004,2007,2010,2013,2016], "tickCount": 40, "labels": false}},
           "y": {"field": "b2", "type": "quantitative", "title": "Soil moisture anomaly (mm)", "axis": {"values": [-0.4,-0.2,0,0.2,0.4], "tickCount": 20, "format": ".1f"}},
           "color": {"datum": "CCDAS", "type": "nominal"}}},
        {"data": {"values": [{"n": 1}]}, "mark": {"type": "text", "align": "left", "baseline": "top", "fontSize": 5.5, "lineHeight": 6.7, "dy": 2, "color": "#b5402a"},
         "encoding": {"x": {"datum": 1980.2, "type": "quantitative"}, "y": {"datum": 0.4, "type": "quantitative"}, "text": {"value": ["r(CCI,NINO34):\u00a0\u00a00.18", "r(CCI,MEI):\u00a0\u00a00.17"]}}},
        {"data": {"values": [{"n": 1}]}, "mark": {"type": "text", "align": "left", "baseline": "top", "fontSize": 5.5, "lineHeight": 6.7, "dy": 2, "color": "#2a2ae0"},
         "encoding": {"x": {"datum": 1986.3, "type": "quantitative"}, "y": {"datum": 0.4, "type": "quantitative"}, "text": {"value": ["r(CCDAS,NINO34):\u00a0\u00a00.78", "r(CCDAS,MEI):\u00a0\u00a00.76"]}}},
        {"data": {"values": [{"n": 1}]}, "mark": {"type": "text", "angle": 270, "align": "center", "baseline": "top", "dy": 3.5, "fontSize": 7, "color": "#262626"},
         "encoding": {"x": {"datum": 2016, "type": "quantitative"}, "y": {"datum": 0, "type": "quantitative"}, "text": {"value": "N30-N60"}}}
      ]
    },
    {
      "width": 393, "height": 95,
      "title": {"text": "c", "orient": "left", "anchor": "end", "angle": 0, "align": "right", "baseline": "middle", "fontSize": 9.5, "fontWeight": "bold", "offset": 2, "dy": -2},
      "layer": [
        {"mark": {"type": "line", "color": "#ffc8d5", "strokeWidth": 9, "opacity": 0.55, "strokeJoin": "round"},
         "encoding": {
           "x": {"field": "t", "type": "quantitative", "title": null, "scale": {"domain": [1980, 2016], "nice": false, "zero": false}, "axis": {"values": [1980,1983,1986,1989,1992,1995,1998,2001,2004,2007,2010,2013,2016], "tickCount": 40, "labels": false}},
           "y": {"field": "c1", "type": "quantitative", "title": "Soil moisture anomaly (mm)", "scale": {"domain": [-0.6, 0.6], "nice": false, "zero": false}, "axis": {"values": [-0.6,-0.4,-0.2,0,0.2,0.4,0.6], "tickCount": 20, "format": ".1f"}}}},
        {"mark": {"type": "line", "strokeWidth": 1.1},
         "encoding": {
           "x": {"field": "t", "type": "quantitative", "title": null, "axis": {"values": [1980,1983,1986,1989,1992,1995,1998,2001,2004,2007,2010,2013,2016], "tickCount": 40, "labels": false}},
           "y": {"field": "c1", "type": "quantitative", "title": "Soil moisture anomaly (mm)", "axis": {"values": [-0.6,-0.4,-0.2,0,0.2,0.4,0.6], "tickCount": 20, "format": ".1f"}},
           "color": {"datum": "CCI", "type": "nominal", "scale": {"domain": ["CCI", "CCDAS"], "range": ["#a0522d", "#2a2ae0"]},
             "legend": {"orient": "none", "legendX": 136, "legendY": 75, "direction": "horizontal", "title": null, "symbolType": "stroke", "symbolStrokeWidth": 1.3, "symbolSize": 260, "labelFont": "DejaVu Sans", "labelFontSize": 9, "labelOffset": 8, "columnPadding": 14, "padding": 3, "fillColor": "#ffffff", "strokeColor": "#9a9a9a", "cornerRadius": 2, "encode": {"labels": {"update": {"fill": {"signal": "datum.label == 'CCI' ? '#b5402a' : '#2a2ae0'"}}}}}}}},
        {"mark": {"type": "line", "strokeWidth": 1.1},
         "encoding": {
           "x": {"field": "t", "type": "quantitative", "title": null, "axis": {"values": [1980,1983,1986,1989,1992,1995,1998,2001,2004,2007,2010,2013,2016], "tickCount": 40, "labels": false}},
           "y": {"field": "c2", "type": "quantitative", "title": "Soil moisture anomaly (mm)", "axis": {"values": [-0.6,-0.4,-0.2,0,0.2,0.4,0.6], "tickCount": 20, "format": ".1f"}},
           "color": {"datum": "CCDAS", "type": "nominal"}}},
        {"data": {"values": [{"n": 1}]}, "mark": {"type": "text", "align": "left", "baseline": "top", "fontSize": 5.5, "lineHeight": 6.7, "dy": 2, "color": "#b5402a"},
         "encoding": {"x": {"datum": 1980.2, "type": "quantitative"}, "y": {"datum": 0.6, "type": "quantitative"}, "text": {"value": ["r(CCI,NINO34):\u00a0\u00a00.10", "r(CCI,MEI):\u00a0\u00a00.32"]}}},
        {"data": {"values": [{"n": 1}]}, "mark": {"type": "text", "align": "left", "baseline": "top", "fontSize": 5.5, "lineHeight": 6.7, "dy": 2, "color": "#2a2ae0"},
         "encoding": {"x": {"datum": 1986.3, "type": "quantitative"}, "y": {"datum": 0.6, "type": "quantitative"}, "text": {"value": ["r(CCDAS,NINO34):−0.15", "r(CCDAS,MEI):−0.06"]}}},
        {"data": {"values": [{"n": 1}]}, "mark": {"type": "text", "angle": 270, "align": "center", "baseline": "top", "dy": 3.5, "fontSize": 7, "color": "#262626"},
         "encoding": {"x": {"datum": 2016, "type": "quantitative"}, "y": {"datum": 0, "type": "quantitative"}, "text": {"value": "N0-N30"}}}
      ]
    },
    {
      "width": 393, "height": 95,
      "title": {"text": "d", "orient": "left", "anchor": "end", "angle": 0, "align": "right", "baseline": "middle", "fontSize": 9.5, "fontWeight": "bold", "offset": 2, "dy": -2},
      "layer": [
        {"mark": {"type": "line", "color": "#ffc8d5", "strokeWidth": 9, "opacity": 0.55, "strokeJoin": "round"},
         "encoding": {
           "x": {"field": "t", "type": "quantitative", "title": null, "scale": {"domain": [1980, 2016], "nice": false, "zero": false}, "axis": {"values": [1980,1983,1986,1989,1992,1995,1998,2001,2004,2007,2010,2013,2016], "tickCount": 40, "labels": false}},
           "y": {"field": "d1", "type": "quantitative", "title": "Soil moisture anomaly (mm)", "scale": {"domain": [-0.6, 0.6], "nice": false, "zero": false}, "axis": {"values": [-0.6,-0.4,-0.2,0,0.2,0.4,0.6], "tickCount": 20, "format": ".1f"}}}},
        {"mark": {"type": "line", "strokeWidth": 1.1},
         "encoding": {
           "x": {"field": "t", "type": "quantitative", "title": null, "axis": {"values": [1980,1983,1986,1989,1992,1995,1998,2001,2004,2007,2010,2013,2016], "tickCount": 40, "labels": false}},
           "y": {"field": "d1", "type": "quantitative", "title": "Soil moisture anomaly (mm)", "axis": {"values": [-0.6,-0.4,-0.2,0,0.2,0.4,0.6], "tickCount": 20, "format": ".1f"}},
           "color": {"datum": "CCI", "type": "nominal", "scale": {"domain": ["CCI", "CCDAS"], "range": ["#a0522d", "#2a2ae0"]},
             "legend": {"orient": "none", "legendX": 136, "legendY": 75, "direction": "horizontal", "title": null, "symbolType": "stroke", "symbolStrokeWidth": 1.3, "symbolSize": 260, "labelFont": "DejaVu Sans", "labelFontSize": 9, "labelOffset": 8, "columnPadding": 14, "padding": 3, "fillColor": "#ffffff", "strokeColor": "#9a9a9a", "cornerRadius": 2, "encode": {"labels": {"update": {"fill": {"signal": "datum.label == 'CCI' ? '#b5402a' : '#2a2ae0'"}}}}}}}},
        {"mark": {"type": "line", "strokeWidth": 1.1},
         "encoding": {
           "x": {"field": "t", "type": "quantitative", "title": null, "axis": {"values": [1980,1983,1986,1989,1992,1995,1998,2001,2004,2007,2010,2013,2016], "tickCount": 40, "labels": false}},
           "y": {"field": "d2", "type": "quantitative", "title": "Soil moisture anomaly (mm)", "axis": {"values": [-0.6,-0.4,-0.2,0,0.2,0.4,0.6], "tickCount": 20, "format": ".1f"}},
           "color": {"datum": "CCDAS", "type": "nominal"}}},
        {"data": {"values": [{"n": 1}]}, "mark": {"type": "text", "align": "left", "baseline": "top", "fontSize": 5.5, "lineHeight": 6.7, "dy": 2, "color": "#b5402a"},
         "encoding": {"x": {"datum": 1980.2, "type": "quantitative"}, "y": {"datum": 0.6, "type": "quantitative"}, "text": {"value": ["r(CCI,NINO34):−0.31", "r(CCI,MEI):−0.27"]}}},
        {"data": {"values": [{"n": 1}]}, "mark": {"type": "text", "align": "left", "baseline": "top", "fontSize": 5.5, "lineHeight": 6.7, "dy": 2, "color": "#2a2ae0"},
         "encoding": {"x": {"datum": 1986.3, "type": "quantitative"}, "y": {"datum": 0.6, "type": "quantitative"}, "text": {"value": ["r(CCDAS,NINO34):−0.45", "r(CCDAS,MEI):−0.44"]}}},
        {"data": {"values": [{"n": 1}]}, "mark": {"type": "text", "angle": 270, "align": "center", "baseline": "top", "dy": 3.5, "fontSize": 7, "color": "#262626"},
         "encoding": {"x": {"datum": 2016, "type": "quantitative"}, "y": {"datum": 0, "type": "quantitative"}, "text": {"value": "S30-S0"}}}
      ]
    },
    {
      "width": 393, "height": 95,
      "title": {"text": "e", "orient": "left", "anchor": "end", "angle": 0, "align": "right", "baseline": "middle", "fontSize": 9.5, "fontWeight": "bold", "offset": 2, "dy": -2},
      "layer": [
        {"mark": {"type": "line", "color": "#ffc8d5", "strokeWidth": 9, "opacity": 0.55, "strokeJoin": "round"},
         "encoding": {
           "x": {"field": "t", "type": "quantitative", "title": "Year", "scale": {"domain": [1980, 2016], "nice": false, "zero": false}, "axis": {"values": [1980,1983,1986,1989,1992,1995,1998,2001,2004,2007,2010,2013,2016], "tickCount": 40, "format": "d", "titlePadding": 3}},
           "y": {"field": "e1", "type": "quantitative", "title": "Soil moisture anomaly (mm)", "scale": {"domain": [-0.6, 0.6], "nice": false, "zero": false}, "axis": {"values": [-0.6,-0.4,-0.2,0,0.2,0.4,0.6], "tickCount": 20, "format": ".1f"}}}},
        {"mark": {"type": "line", "strokeWidth": 1.1},
         "encoding": {
           "x": {"field": "t", "type": "quantitative", "title": "Year", "axis": {"values": [1980,1983,1986,1989,1992,1995,1998,2001,2004,2007,2010,2013,2016], "tickCount": 40, "format": "d", "titlePadding": 3}},
           "y": {"field": "e1", "type": "quantitative", "title": "Soil moisture anomaly (mm)", "axis": {"values": [-0.6,-0.4,-0.2,0,0.2,0.4,0.6], "tickCount": 20, "format": ".1f"}},
           "color": {"datum": "CCI", "type": "nominal", "scale": {"domain": ["CCI", "CCDAS"], "range": ["#a0522d", "#2a2ae0"]},
             "legend": {"orient": "none", "legendX": 136, "legendY": 75, "direction": "horizontal", "title": null, "symbolType": "stroke", "symbolStrokeWidth": 1.3, "symbolSize": 260, "labelFont": "DejaVu Sans", "labelFontSize": 9, "labelOffset": 8, "columnPadding": 14, "padding": 3, "fillColor": "#ffffff", "strokeColor": "#9a9a9a", "cornerRadius": 2, "encode": {"labels": {"update": {"fill": {"signal": "datum.label == 'CCI' ? '#b5402a' : '#2a2ae0'"}}}}}}}},
        {"mark": {"type": "line", "strokeWidth": 1.1},
         "encoding": {
           "x": {"field": "t", "type": "quantitative", "title": "Year", "axis": {"values": [1980,1983,1986,1989,1992,1995,1998,2001,2004,2007,2010,2013,2016], "tickCount": 40, "format": "d", "titlePadding": 3}},
           "y": {"field": "e2", "type": "quantitative", "title": "Soil moisture anomaly (mm)", "axis": {"values": [-0.6,-0.4,-0.2,0,0.2,0.4,0.6], "tickCount": 20, "format": ".1f"}},
           "color": {"datum": "CCDAS", "type": "nominal"}}},
        {"data": {"values": [{"n": 1}]}, "mark": {"type": "text", "align": "left", "baseline": "top", "fontSize": 5.5, "lineHeight": 6.7, "dy": 2, "color": "#b5402a"},
         "encoding": {"x": {"datum": 1980.2, "type": "quantitative"}, "y": {"datum": 0.6, "type": "quantitative"}, "text": {"value": ["r(CCI,NINO34):\u00a0\u00a00.40", "r(CCI,MEI):\u00a0\u00a00.40"]}}},
        {"data": {"values": [{"n": 1}]}, "mark": {"type": "text", "align": "left", "baseline": "top", "fontSize": 5.5, "lineHeight": 6.7, "dy": 2, "color": "#2a2ae0"},
         "encoding": {"x": {"datum": 1986.3, "type": "quantitative"}, "y": {"datum": 0.6, "type": "quantitative"}, "text": {"value": ["r(CCDAS,NINO34):\u00a0\u00a00.60", "r(CCDAS,MEI):\u00a0\u00a00.58"]}}},
        {"data": {"values": [{"n": 1}]}, "mark": {"type": "text", "angle": 270, "align": "center", "baseline": "top", "dy": 3.5, "fontSize": 7, "color": "#262626"},
         "encoding": {"x": {"datum": 2016, "type": "quantitative"}, "y": {"datum": 0, "type": "quantitative"}, "text": {"value": "S60-S30"}}}
      ]
    }
  ],
  "config": {
    "font": "DejaVu Sans",
    "view": {"stroke": "#262626", "strokeWidth": 0.9},
    "axis": {"grid": false, "domain": false, "labelOverlap": false, "labelFlush": false, "labelFont": "DejaVu Sans", "titleFont": "DejaVu Sans", "labelFontSize": 7.3, "titleFontSize": 7.3, "titleFontWeight": "normal", "labelColor": "#262626", "titleColor": "#262626", "tickColor": "#262626", "tickSize": 3.5, "tickWidth": 0.8, "labelPadding": 2, "titlePadding": 2},
    "title": {"font": "DejaVu Sans", "color": "#000000"}
  }
}
